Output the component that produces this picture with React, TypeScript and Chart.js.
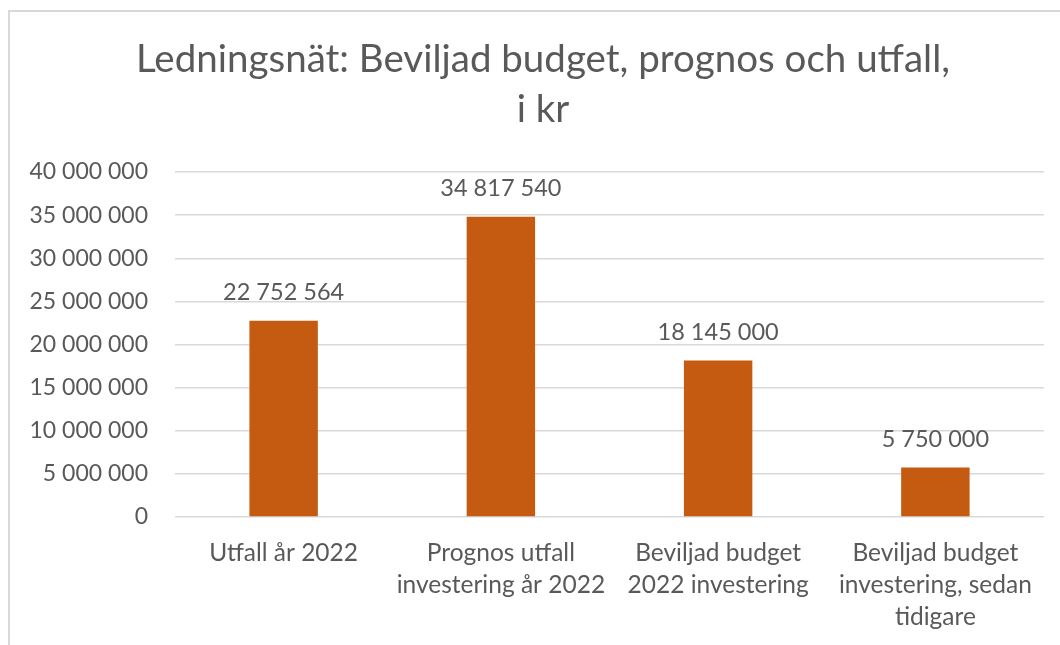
import React, { useEffect, useRef } from "react";
import { Chart, registerables } from "chart.js";

Chart.register(...registerables);

const titleLines = ["Ledningsnät: Beviljad budget, prognos och utfall,", "i kr"];
const categories: string[][] = [
  ["Utfall år 2022"],
  ["Prognos utfall", "investering år 2022"],
  ["Beviljad budget", "2022 investering"],
  ["Beviljad budget", "investering, sedan", "tidigare"],
];
const values = [22752564, 34817540, 18145000, 5750000];
const yMin = 0;
const yMax = 40000000;
const yStep = 5000000;

const FONT = "Lato, 'Noto Sans', sans-serif";
const TEXT = "#595959";
const BAR = "#C55A11";
const GRID = "#D9D9D9";

const fmt = (v: number) =>
  Math.round(v)
    .toString()
    .replace(/\B(?=(\d{3})+(?!\d))/g, " ");

const labelPlugin = {
  id: "barLabels",
  afterDatasetsDraw(chart: any) {
    const ctx = chart.ctx;
    const meta = chart.getDatasetMeta(0);
    ctx.save();
    ctx.font = `23.5px ${FONT}`;
    ctx.fillStyle = TEXT;
    ctx.textAlign = "center";
    ctx.textBaseline = "middle";
    meta.data.forEach((el: any, i: number) => {
      ctx.fillText(fmt(values[i]), el.x, el.y - 28);
    });
    ctx.restore();
  },
};

const titlePlugin = {
  id: "customTitle",
  afterDraw(chart: any) {
    const ctx = chart.ctx;
    ctx.save();
    ctx.font = `38.5px ${FONT}`;
    ctx.fillStyle = TEXT;
    ctx.textAlign = "center";
    ctx.textBaseline = "alphabetic";
    const cx = chart.width / 2;
    titleLines.forEach((t, i) => ctx.fillText(t, cx, 60 + i * 50));
    ctx.restore();
  },
};

export default function App() {
  const ref = useRef<HTMLCanvasElement | null>(null);
  useEffect(() => {
    if (!ref.current) return;
    const chart = new Chart(ref.current, {
      type: "bar",
      data: {
        labels: categories,
        datasets: [
          {
            data: values,
            backgroundColor: BAR,
            borderWidth: 0,
            barPercentage: 0.63,
            categoryPercentage: 0.5,
          },
        ],
      },
      plugins: [labelPlugin, titlePlugin],
      options: {
        animation: false,
        responsive: false,
        maintainAspectRatio: false,
        layout: { padding: { left: 0, right: 32, top: 160, bottom: 0 } },
        plugins: {
          legend: { display: false },
          title: { display: false },
          tooltip: { enabled: false },
        },
        scales: {
          x: {
            grid: { display: false, drawTicks: false },
            border: { display: false },
            ticks: {
              color: TEXT,
              font: { family: FONT, size: 24.5, lineHeight: 1.3 },
              padding: 20,
              maxRotation: 0,
              autoSkip: false,
            },
            afterFit(scale: any) {
              scale.height = 191;
            },
          },
          y: {
            min: yMin,
            max: yMax,
            grid: { color: GRID, lineWidth: 1.5, drawTicks: false },
            border: { display: false },
            ticks: {
              stepSize: yStep,
              color: TEXT,
              font: { family: FONT, size: 23 },
              padding: 27,
              callback: (v: any) => fmt(Number(v)),
            },
            afterFit(scale: any) {
              scale.width = 165;
            },
          },
        },
      },
    } as any);
    return () => chart.destroy();
  }, []);

  return (
    <div style={{ position: "fixed", inset: 0, overflow: "hidden", background: "#fff" }}>
      <div
        style={{
          position: "absolute",
          left: 8,
          top: 10,
          width: 1070,
          height: 700,
          border: "2px solid #D9D9D9",
          boxSizing: "border-box",
        }}
      >
        <canvas ref={ref} width={1066} height={696} style={{ display: "block", width: 1066, height: 696 }} />
      </div>
    </div>
  );
}
